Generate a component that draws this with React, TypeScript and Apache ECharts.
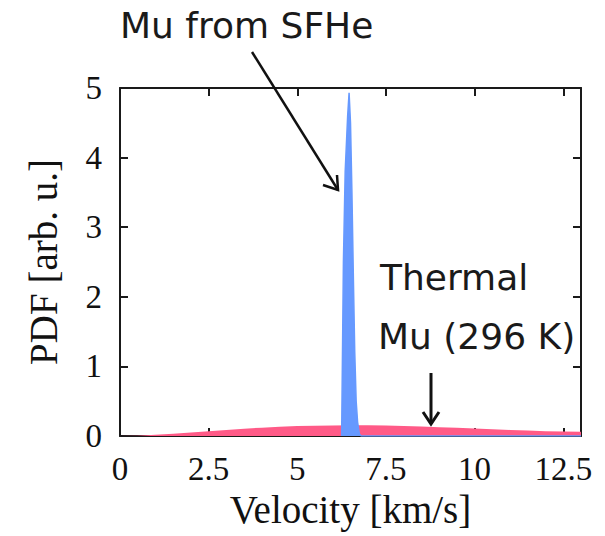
import React, { useEffect, useRef } from "react";
import * as echarts from "echarts";

// Thermal Mu (296 K) PDF
const thermalV = [0, 0.5, 1, 1.5, 2, 2.5, 3, 3.5, 4, 4.5, 5, 5.5, 6, 6.5, 7, 7.5, 8, 8.5, 9, 9.5, 10, 10.5, 11, 11.5, 12, 12.5, 13];
const thermalPdf = [0, 0.005, 0.018, 0.033, 0.05, 0.068, 0.087, 0.105, 0.12, 0.132, 0.142, 0.148, 0.152, 0.154, 0.153, 0.15, 0.144, 0.136, 0.127, 0.117, 0.107, 0.097, 0.087, 0.078, 0.07, 0.064, 0.06];

// Mu from SFHe PDF (narrow spike)
const sfheV = [6.25, 6.27, 6.3, 6.35, 6.42, 6.46, 6.5, 6.54, 6.58, 6.62, 6.66, 6.7, 6.75, 6.8, 13];
const sfhePdf = [0, 1.0, 2.5, 3.8, 4.6, 4.93, 4.5, 3.5, 2.3, 1.2, 0.5, 0.2, 0.03, 0, 0];

const xTicks = [0, 2.5, 5, 7.5, 10, 12.5];
const yTicks = [0, 1, 2, 3, 4, 5];

const xTitle = "Velocity [km/s]";
const yTitle = "PDF [arb. u.]";
const sfheLabel = "Mu from SFHe";
const thermalLabel1 = "Thermal";
const thermalLabel2 = "Mu (296 K)";

export default function App() {
  const ref = useRef<HTMLDivElement>(null);
  useEffect(() => {
    if (!ref.current) return;
    const chart = echarts.init(ref.current, undefined, { renderer: "svg" });
    const axisColor = "#1a1a1a";
    const serif = "Liberation Serif";
    const sans = "DejaVu Sans";
    const fmtX = (v: number) => (xTicks.indexOf(v) >= 0 ? String(v) : "");
    const fmtY = (v: number) => (yTicks.indexOf(v) >= 0 ? String(v) : "");
    const common = {
      axisLine: { show: true, onZero: false, lineStyle: { color: axisColor, width: 2 } },
      axisTick: { show: true, inside: true, length: 8, lineStyle: { color: axisColor, width: 2 } },
      splitLine: { show: false },
    };
    chart.setOption({
      animation: false,
      backgroundColor: "#ffffff",
      grid: { left: 120, right: 24, top: 88, bottom: 100, containLabel: false },
      xAxis: [
        {
          type: "value",
          min: 0,
          max: 13,
          interval: 2.5,
          ...common,
          axisLabel: {
            show: true,
            formatter: fmtX,
            showMaxLabel: false,
            margin: 16,
            color: "#111",
            fontFamily: serif,
            fontSize: 33,
          },
          name: xTitle,
          nameLocation: "middle",
          nameGap: 50,
          nameTextStyle: { color: "#111", fontFamily: serif, fontSize: 39 },
        },
        {
          type: "value",
          position: "top",
          min: 0,
          max: 13,
          interval: 2.5,
          ...common,
          axisLabel: { show: false },
        },
      ],
      yAxis: [
        {
          type: "value",
          min: 0,
          max: 5,
          interval: 1,
          ...common,
          axisLabel: {
            show: true,
            formatter: fmtY,
            margin: 18,
            color: "#111",
            fontFamily: serif,
            fontSize: 33,
          },
          name: yTitle,
          nameLocation: "middle",
          nameGap: 57,
          nameRotate: 90,
          nameTextStyle: { color: "#111", fontFamily: serif, fontSize: 39 },
        },
        {
          type: "value",
          position: "right",
          min: 0,
          max: 5,
          interval: 1,
          ...common,
          axisLabel: { show: false },
        },
      ],
      series: [
        {
          name: "Thermal Mu",
          type: "line",
          data: thermalV.map((v, i) => [v, thermalPdf[i]]),
          showSymbol: false,
          lineStyle: { width: 0, color: "#ff5a87" },
          itemStyle: { color: "#ff5a87" },
          areaStyle: { color: "#ff5a87", opacity: 1 },
          z: 2,
        },
        {
          name: "Mu from SFHe",
          type: "line",
          data: sfheV.map((v, i) => [v, sfhePdf[i]]),
          showSymbol: false,
          lineStyle: { width: 1.5, color: "#6699ff" },
          itemStyle: { color: "#6699ff" },
          areaStyle: { color: "#6699ff", opacity: 1 },
          z: 3,
        },
      ],
      graphic: [
        {
          type: "text",
          left: 120,
          top: 7,
          style: { text: sfheLabel, font: `36px "${sans}"`, fill: "#1a1a1a" },
          z: 10,
        },
        {
          type: "line",
          shape: { x1: 252, y1: 52, x2: 338, y2: 190 },
          style: { stroke: "#111", lineWidth: 2.5 },
          z: 10,
        },
        {
          type: "polyline",
          shape: { points: [[323, 185], [338, 190], [337, 175]] },
          style: { stroke: "#111", lineWidth: 2.5, fill: "none" },
          z: 10,
        },
        {
          type: "text",
          left: 380,
          top: 259,
          style: { text: thermalLabel1, font: `36px "${sans}"`, fill: "#1a1a1a" },
          z: 10,
        },
        {
          type: "text",
          left: 378,
          top: 318,
          style: { text: thermalLabel2, font: `36px "${sans}"`, fill: "#1a1a1a" },
          z: 10,
        },
        {
          type: "line",
          shape: { x1: 431, y1: 373, x2: 431, y2: 424 },
          style: { stroke: "#111", lineWidth: 3 },
          z: 10,
        },
        {
          type: "polyline",
          shape: { points: [[423, 412], [431, 424], [439, 412]] },
          style: { stroke: "#111", lineWidth: 3, fill: "none" },
          z: 10,
        },
      ],
    });
    return () => chart.dispose();
  }, []);
  return (
    <div
      ref={ref}
      style={{ position: "fixed", left: 0, top: 0, width: 605, height: 536 }}
    />
  );
}
